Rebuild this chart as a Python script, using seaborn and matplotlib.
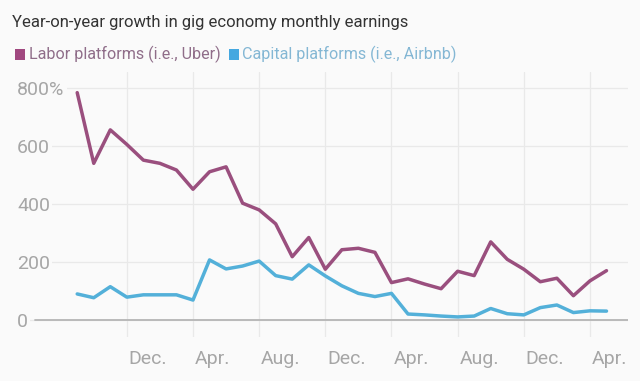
import matplotlib
matplotlib.use("Agg")
import matplotlib.pyplot as plt
from matplotlib.patches import Rectangle
import matplotlib.transforms as mtrans
import seaborn as sns
import pandas as pd

# ---- data (monthly, Sep 2012 .. May 2015) ----
months = ["Sep", "Oct", "Nov", "Dec", "Jan", "Feb", "Mar", "Apr", "May", "Jun", "Jul", "Aug",
          "Sep", "Oct", "Nov", "Dec", "Jan", "Feb", "Mar", "Apr", "May", "Jun", "Jul", "Aug",
          "Sep", "Oct", "Nov", "Dec", "Jan", "Feb", "Mar", "Apr", "May"]
labor = [783, 540, 655, 605, 551, 540, 517, 451, 511, 528, 403, 380,
         332, 219, 285, 176, 243, 248, 234, 130, 143, 125, 109, 169,
         154, 270, 210, 176, 133, 145, 85, 136, 171]
capital = [91, 78, 116, 80, 88, 88, 88, 70, 208, 177, 187, 204,
           154, 142, 191, 153, 119, 93, 82, 93, 22, 19, 15, 12,
           15, 41, 23, 19, 44, 53, 27, 33, 32]
series_names = ["Labor platforms (i.e., Uber)", "Capital platforms (i.e., Airbnb)"]
tick_idx = [3, 7, 11, 15, 19, 23, 27, 31]
tick_labels = ["Dec.", "Apr.", "Aug.", "Dec.", "Apr.", "Aug.", "Dec.", "Apr."]
y_ticks = [0, 200, 400, 600, 800]
y_tick_labels = ["0", "200", "400", "600", "800%"]

title = "Year-on-year growth in gig economy monthly earnings"

LABOR_C = "#9a4f7e"
CAP_C = "#53b0d9"
BG = "#fafafa"
GRID = "#e9e9e9"
TICK_C = "#a6a6a6"

df = pd.DataFrame({
    "t": list(range(len(months))) * 2,
    "value": labor + capital,
    "series": [series_names[0]] * len(labor) + [series_names[1]] * len(capital),
})

sns.set_style("white")
plt.rcParams["font.family"] = ["Roboto", "DejaVu Sans"]

W, H = 640, 381
fig = plt.figure(figsize=(W / 100, H / 100), dpi=100, facecolor=BG)
ax = fig.add_axes([17 / W, (H - 337) / H, (628 - 17) / W, (337 - 72) / H])
ax.set_facecolor(BG)

sns.lineplot(data=df, x="t", y="value", hue="series",
             palette={series_names[0]: LABOR_C, series_names[1]: CAP_C},
             linewidth=2.5, legend=False, ax=ax, zorder=3)

ax.set_xlim(-3.64, 33.3)
ax.set_ylim(-57, 854)

for s in ax.spines.values():
    s.set_visible(False)

ax.set_xticks(tick_idx)
ax.set_xticklabels(tick_labels)
ax.set_yticks(y_ticks)
ax.set_yticklabels(y_tick_labels)
ax.grid(True, color=GRID, linewidth=0.9, zorder=0)
ax.tick_params(axis="both", length=0, colors=TICK_C, labelsize=14)
ax.tick_params(axis="x", pad=9)
ax.tick_params(axis="y", pad=0)
for lab in ax.get_xticklabels():
    lab.set_horizontalalignment("left")
for lab in ax.get_yticklabels():
    lab.set_horizontalalignment("left")
    lab.set_bbox(dict(facecolor=BG, edgecolor="none", pad=1.5))
    lab.set_zorder(4)
ax.set_xlabel("")
ax.set_ylabel("")

# shift x tick labels slightly right of their gridline
offset = mtrans.ScaledTranslation(2 / 100, 0, fig.dpi_scale_trans)
for lab in ax.get_xticklabels():
    lab.set_transform(lab.get_transform() + offset)

ax.axhline(0, xmin=(35 - 17) / (628 - 17), xmax=1, color="#b5b5b5", linewidth=1.3, zorder=2)

fig.text(12 / W, (H - 27) / H, title, fontsize=12, color="#333333", va="baseline", ha="left")

# legend
fig.patches.append(Rectangle((15 / W, (H - 60) / H), 10 / W, 11 / H, transform=fig.transFigure,
                             facecolor="#a0487f", edgecolor="none"))
fig.text(29 / W, (H - 59) / H, series_names[0], fontsize=11.6, color="#8f6d89", va="baseline", ha="left")
fig.patches.append(Rectangle((229 / W, (H - 60) / H), 10 / W, 11 / H, transform=fig.transFigure,
                             facecolor="#45a8e0", edgecolor="none"))
fig.text(242 / W, (H - 59) / H, series_names[1], fontsize=11.6, color="#84b7d4", va="baseline", ha="left")

fig.savefig("out.png", dpi=100, facecolor=BG)
